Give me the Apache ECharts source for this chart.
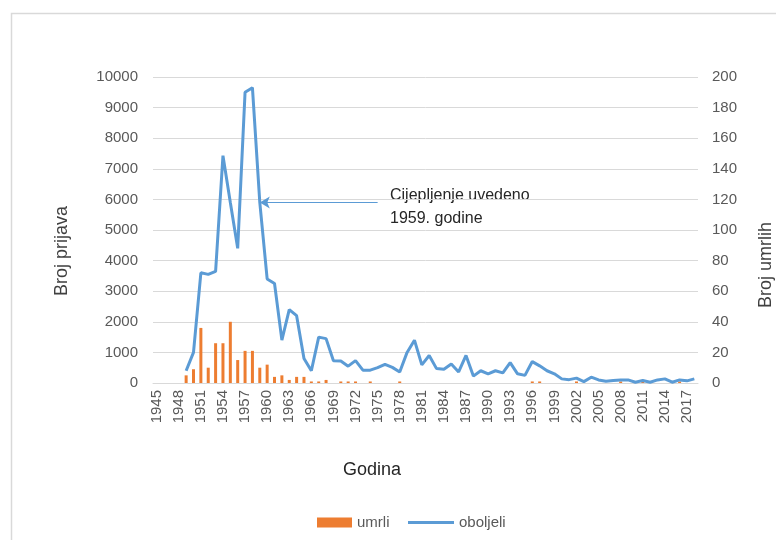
<!DOCTYPE html>
<html lang="hr">
<head>
    <meta charset="UTF-8">
    <title>Oboljeli i umrli</title>
    <style>
        html, body { margin: 0; padding: 0; background: #fff; }
    </style>
</head>
<body>
<div id="container" style="width:776px;height:540px"></div>
<script type="text/javascript" src="https://cdn.jsdelivr.net/npm/echarts@6/dist/echarts.min.js"></script>
<script type="text/javascript">
    // godine 1945 - 2018
    var years = [];
    for (var y = 1945; y <= 2018; y++) years.push(String(y));

    // broj prijava (lijeva os), od 1949.
    var oboljeli = [null, null, null, null,
        400, 1000, 3600, 3550, 3650, 7430, 5900, 4400, 9500, 9650,
        5900, 3400, 3250, 1400, 2400, 2200, 800, 400, 1500, 1450,
        730, 720, 550, 730, 420, 420, 500, 610, 510, 360,
        1000, 1400, 590, 900, 470, 450, 620, 360, 900, 225,
        400, 300, 400, 330, 665, 300, 250, 700, 560, 400,
        300, 135, 110, 160, 45, 190, 100, 55, 80, 100,
        100, 25, 80, 25, 100, 135, 25, 100, 70, 135];

    // broj umrlih (desna os)
    var umrli = [null, null, null, null,
        5, 9, 36, 10, 26, 26, 40, 15, 21, 21,
        10, 12, 4, 5, 2, 4, 4, 1, 1, 2,
        0, 1, 1, 1, 0, 1, 0, 0, 0, 1,
        0, 0, 0, 0, 0, 0, 0, 0, 0, 0,
        0, 0, 0, 0, 0, 0, 0, 1, 1, 0,
        0, 0, 0, 1, 0, 0, 0, 0, 0, 1,
        0, 0, 1, 0, 0, 0, 0, 1, 0, 0];

    var leftTicks = [0, 10000, 1000];
    var rightTicks = [0, 200, 20];

    var FONT = '"Liberation Sans", Arial, sans-serif';

    var dom = document.getElementById('container');
    var myChart = echarts.init(dom, null, { renderer: 'canvas' });

    var legendText = { fontSize: 15, color: '#595959', fontFamily: FONT };

    var option = {
        animation: false,
        backgroundColor: '#fff',
        textStyle: { fontFamily: FONT },
        grid: { left: 153, right: 78, top: 77, bottom: 157, containLabel: false },
        legend: [
            {
                left: 312,
                top: 510,
                itemWidth: 35,
                itemHeight: 10,
                textStyle: legendText,
                data: [{ name: 'umrli', icon: 'rect' }]
            },
            {
                left: 403,
                top: 510,
                itemWidth: 46,
                itemHeight: 3,
                itemGap: 4,
                textStyle: legendText,
                data: [{ name: 'oboljeli', icon: 'rect' }]
            }
        ],
        xAxis: {
            type: 'category',
            data: years,
            axisLine: { lineStyle: { color: '#d9d9d9' } },
            axisTick: { show: false },
            axisLabel: {
                interval: 2,
                rotate: 90,
                margin: 7,
                fontSize: 15,
                color: '#595959',
                fontFamily: FONT
            }
        },
        yAxis: [
            {
                type: 'value',
                min: leftTicks[0], max: leftTicks[1], interval: leftTicks[2],
                axisLine: { show: false },
                axisTick: { show: false },
                axisLabel: {
                    margin: 15, fontSize: 15, color: '#595959', fontFamily: FONT,
                    formatter: function (v) { return String(v); }
                },
                splitLine: { lineStyle: { color: '#d9d9d9', width: 1 } }
            },
            {
                type: 'value',
                min: rightTicks[0], max: rightTicks[1], interval: rightTicks[2],
                axisLine: { show: false },
                axisTick: { show: false },
                axisLabel: {
                    margin: 14, fontSize: 15, color: '#595959', fontFamily: FONT,
                    formatter: function (v) { return String(v); }
                },
                splitLine: { show: false }
            }
        ],
        series: [
            {
                name: 'umrli',
                type: 'bar',
                yAxisIndex: 1,
                barWidth: 3,
                itemStyle: { color: '#ed7d31' },
                data: umrli
            },
            {
                name: 'oboljeli',
                type: 'line',
                yAxisIndex: 0,
                symbol: 'none',
                connectNulls: false,
                lineStyle: { color: '#5b9bd5', width: 3 },
                itemStyle: { color: '#5b9bd5' },
                data: oboljeli,
                markLine: {
                    silent: true,
                    symbol: ['none', 'arrow'],
                    symbolSize: [9, 10],
                    label: { show: false },
                    lineStyle: { color: '#5b9bd5', width: 1, type: 'solid' },
                    data: [[
                        { coord: ['1975', 5900] },
                        { coord: ['1959', 5900] }
                    ]]
                }
            }
        ],
        graphic: [
            {
                type: 'rect',
                left: 9, top: 11,
                shape: { width: 800, height: 560 },
                style: { fill: 'none', stroke: '#d9d9d9', lineWidth: 1.5 },
                z: -1
            },
            {
                type: 'text',
                left: 390, top: 184,
                style: {
                    text: 'Cijepljenje uvedeno\n1959. godine',
                    font: '16px ' + FONT,
                    lineHeight: 23,
                    fill: '#262626'
                }
            },
            {
                type: 'text',
                x: 62, y: 251,
                rotation: Math.PI / 2,
                style: {
                    text: 'Broj prijava',
                    font: '18px ' + FONT,
                    fill: '#404040',
                    align: 'center',
                    verticalAlign: 'middle'
                }
            },
            {
                type: 'text',
                x: 766, y: 265,
                rotation: Math.PI / 2,
                style: {
                    text: 'Broj umrlih',
                    font: '18px ' + FONT,
                    fill: '#404040',
                    align: 'center',
                    verticalAlign: 'middle'
                }
            },
            {
                type: 'text',
                x: 372, y: 470,
                style: {
                    text: 'Godina',
                    font: '18px ' + FONT,
                    fill: '#262626',
                    align: 'center',
                    verticalAlign: 'middle'
                }
            }
        ]
    };

    myChart.setOption(option);
</script>
</body>
</html>
